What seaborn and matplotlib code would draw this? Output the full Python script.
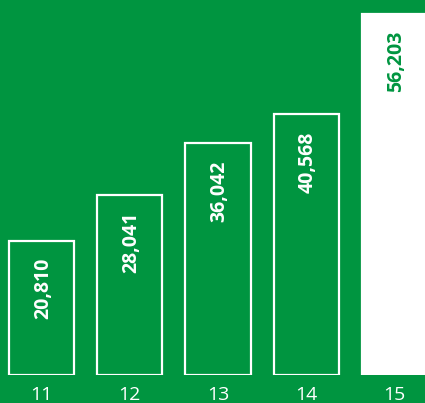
import matplotlib
matplotlib.use("Agg")
import matplotlib.pyplot as plt
import seaborn as sns
import pandas as pd

years = ["11", "12", "13", "14", "15"]
values = [20810, 28041, 36042, 40568, 56203]
value_labels = ["20,810", "28,041", "36,042", "40,568", "56,203"]

GREEN = "#009540"
WHITE = "#FFFFFF"

sns.set_style("white")
plt.rcParams["font.family"] = ["Open Sans", "DejaVu Sans"]

df = pd.DataFrame({"year": years, "value": values})

fig = plt.figure(figsize=(4.25, 4.03), dpi=100)
fig.patch.set_facecolor(GREEN)
bottom_px = 28.3
ax = fig.add_axes([0, bottom_px / 403, 1, 1 - bottom_px / 403])
ax.set_facecolor(GREEN)

sns.barplot(data=df, x="year", y="value", color=GREEN, saturation=1,
            width=0.74, edgecolor=WHITE, linewidth=1.6, ax=ax)
ax.patches[-1].set_facecolor(WHITE)

scale = 6.42 / 1000  # px per unit
ax.set_ylim(0, (403 - bottom_px) / scale)
ax.set_xlim(-0.47, 4.346)

for i, (v, lab) in enumerate(zip(values, value_labels)):
    col = GREEN if i == len(values) - 1 else WHITE
    ax.annotate(lab, (i, v), xytext=(1.5, -17), textcoords="offset pixels",
                rotation=90, ha="center", va="top", color=col,
                fontsize=14, fontweight="bold")

for s in ax.spines.values():
    s.set_visible(False)
ax.set_yticks([])
ax.set_xlabel("")
ax.set_ylabel("")
ax.tick_params(axis="x", length=0, pad=8, labelsize=14, labelcolor=WHITE)

fig.savefig("out.png", dpi=100, facecolor=GREEN)
